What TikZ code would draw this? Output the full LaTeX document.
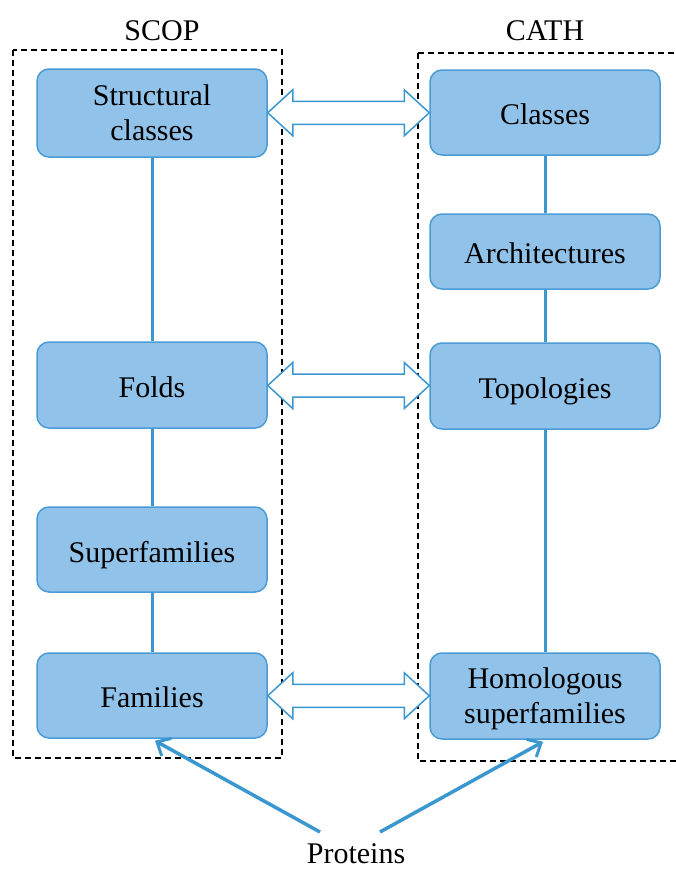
\documentclass[tikz,border=0pt]{standalone}
\usepackage{fontspec}
\setmainfont{Liberation Serif}
\usetikzlibrary{calc,arrows.meta}
\definecolor{boxfill}{RGB}{145,195,234}
\definecolor{boxline}{RGB}{74,155,214}
\definecolor{conn}{RGB}{58,151,208}
\newcommand\lowr[1]{\raisebox{-2pt}[\height][\depth]{#1}}
\tikzset{
  x=1pt,y=-1pt,
  lvl/.style={draw=boxline,fill=boxfill,line width=1.5pt,rounded corners=12pt,
    minimum width=230pt,align=center,font=\fontsize{30}{35}\selectfont,inner sep=0pt,text depth=0pt},
  title/.style={font=\fontsize{30}{35}\selectfont,inner sep=0pt},
  link/.style={draw=conn,line width=3pt},
  frame/.style={draw=black,line width=1.5pt,dash pattern=on 6pt off 4pt},
  hollow/.style={draw=conn,fill=white,line width=1.5pt,line join=miter},
  feed/.style={draw=conn,line width=3.5pt,-{Straight Barb[length=11pt,width=20pt,line width=3pt]}}
}
\newcommand\hollowarrow[2]{%
  \path[hollow] let \p1=(#1.east), \p2=(#2.west), \n1={0.5*(\y1+\y2)} in
    (\x1,\n1) -- (\x1+25pt,\n1+23pt) -- (\x1+25pt,\n1+11.5pt) -- (\x2-25pt,\n1+11.5pt)
    -- (\x2-25pt,\n1+23pt) -- (\x2,\n1) -- (\x2-25pt,\n1-23pt) -- (\x2-25pt,\n1-11.5pt)
    -- (\x1+25pt,\n1-11.5pt) -- (\x1+25pt,\n1-23pt) -- cycle;}
\begin{document}
\begin{tikzpicture}
\useasboundingbox (0,0) rectangle (676,870);
% frames
\draw[frame] (13,50) rectangle (282,758);
\draw[frame] (418,53) -- (690,53) (418,53) -- (418,761) -- (690,761);
% titles
\node[title] (scop) at (162,31) {SCOP};
\node[title] (cath) at (545,31) {CATH};
% left column
\node[lvl,minimum height=88pt] (sc) at (152,113) {Structural\\classes};
\node[lvl,minimum height=86pt] (fo) at (152,385) {\lowr{Folds}};
\node[lvl,minimum height=85pt] (sf) at (152,549.5) {\lowr{Superfamilies}};
\node[lvl,minimum height=85pt] (fa) at (152,695.5) {\lowr{Families}};
% right column
\node[lvl,minimum height=85pt] (cl) at (545,112.5) {\lowr{Classes}};
\node[lvl,minimum height=75pt] (ar) at (545,251.5) {\lowr{Architectures}};
\node[lvl,minimum height=86pt] (to) at (545,386) {\lowr{Topologies}};
\node[lvl,minimum height=86pt] (ho) at (545,696) {Homologous\\superfamilies};
% vertical links
\draw[link] (sc) -- (fo);
\draw[link] (fo) -- (sf);
\draw[link] (sf) -- (fa);
\draw[link] (cl) -- (ar);
\draw[link] (ar) -- (to);
\draw[link] (to) -- (ho);
% hollow double arrows
\hollowarrow{sc}{cl}
\hollowarrow{fo}{to}
\hollowarrow{fa}{ho}
% proteins
\node[title] (pr) at (356,854) {Proteins};
\coordinate (pl) at (320,832);
\coordinate (prr) at (380,832);
\draw[feed] (pl) -- ($(fa.south)+(3pt,-2pt)$);
\draw[feed] (prr) -- ($(ho.south)+(-2pt,-2pt)$);
\end{tikzpicture}
\end{document}
